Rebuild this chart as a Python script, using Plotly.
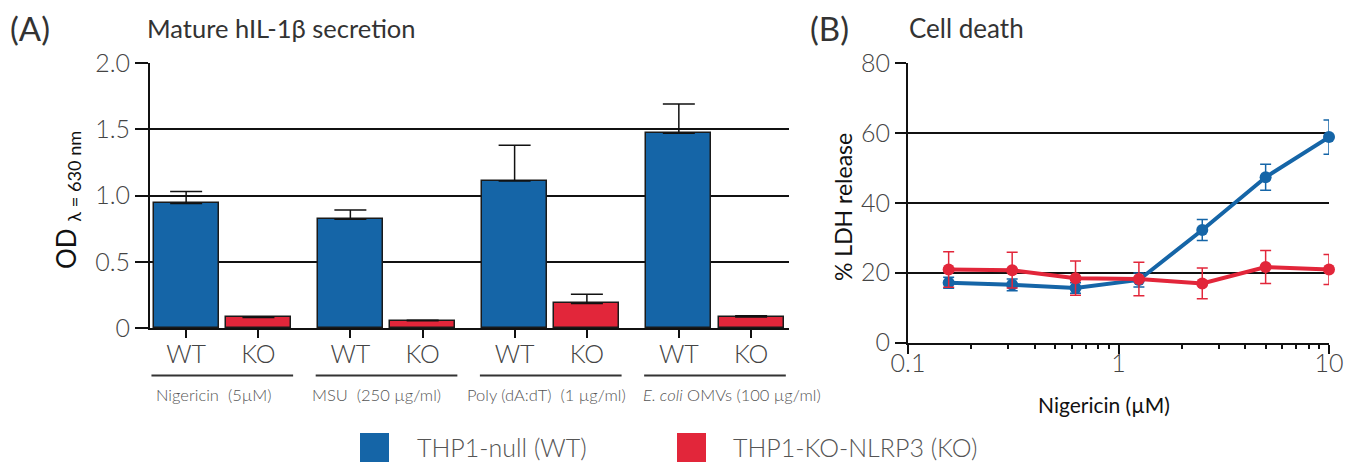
import plotly.graph_objects as go

# ---------------- data ----------------
groups = ["Nigericin  (5µM)", "MSU  (250 µg/ml)", "Poly (dA:dT)  (1 µg/ml)", "<i>E. coli</i> OMVs (100 µg/ml)"]
wt_od = [0.94, 0.82, 1.11, 1.47]
wt_err = [0.09, 0.07, 0.27, 0.22]
ko_od = [0.08, 0.055, 0.185, 0.083]
ko_err = [0.002, 0.003, 0.07, 0.01]
bar_labels = ["WT", "KO"]

nig_conc = [0.156, 0.3125, 0.625, 1.25, 2.5, 5, 10]
wt_ldh = [17.1, 16.5, 15.6, 17.9, 32.2, 47.3, 58.8]
wt_ldh_err = [1.6, 1.7, 1.5, 2.0, 3.0, 3.7, 4.9]
ko_ldh = [20.9, 20.7, 18.4, 18.2, 16.9, 21.6, 20.9]
ko_ldh_err = [5.1, 5.1, 4.9, 4.8, 4.4, 4.7, 4.3]

legend_names = ["THP1-null (WT)", "THP1-KO-NLRP3 (KO)"]

BLUE = "#1565a7"
RED = "#e2263a"
GRAY = "#444444"
OFF = 8                      # page body margin of the browser
W, H = 1356 - OFF, 462 - OFF


def px(x):
    return (x - OFF) / W


def py(y):
    return (H - (y - OFF)) / H


# bar positions (layout)
group_step = 2.272
x_wt = [g * group_step for g in range(len(groups))]
x_ko = [g * group_step + 1 for g in range(len(groups))]
label_shift = [-9, -10, -4, 17]   # px nudges of the group captions

fig = go.Figure()

fig.add_trace(go.Bar(
    x=x_wt, y=wt_od, width=0.9, marker=dict(color=BLUE, line=dict(color="#1a1a1a", width=1.5)),
    error_y=dict(type="data", array=wt_err, arrayminus=[0] * len(wt_err), symmetric=False,
                 color="#111", thickness=1.5, width=16),
    xaxis="x", yaxis="y", showlegend=False, name=legend_names[0]))
fig.add_trace(go.Bar(
    x=x_ko, y=ko_od, width=0.9, marker=dict(color=RED, line=dict(color="#1a1a1a", width=1.5)),
    error_y=dict(type="data", array=ko_err, arrayminus=[0] * len(ko_err), symmetric=False,
                 color="#111", thickness=1.5, width=16),
    xaxis="x", yaxis="y", showlegend=False, name=legend_names[1]))

fig.add_trace(go.Scatter(
    x=nig_conc, y=wt_ldh, mode="lines+markers", cliponaxis=False,
    line=dict(color=BLUE, width=4), marker=dict(color=BLUE, size=12),
    error_y=dict(type="data", array=wt_ldh_err, color=BLUE, thickness=1.5, width=5.5),
    xaxis="x2", yaxis="y2", showlegend=False, name=legend_names[0]))
fig.add_trace(go.Scatter(
    x=nig_conc, y=ko_ldh, mode="lines+markers", cliponaxis=False,
    line=dict(color=RED, width=4), marker=dict(color=RED, size=12),
    error_y=dict(type="data", array=ko_ldh_err, color=RED, thickness=1.5, width=5.5),
    xaxis="x2", yaxis="y2", showlegend=False, name=legend_names[1]))

tickfont = dict(family="Lato", size=25, color=GRAY, weight=300)

tick_x = []
tick_t = []
for a, b in zip(x_wt, x_ko):
    tick_x += [a, b]
    tick_t += bar_labels

minor_vals = [m * d for d in (0.1, 1) for m in range(2, 10)]

fig.update_layout(
    template="none",
    width=W, height=H, margin=dict(l=0, r=0, t=0, b=0, pad=0), autosize=False,
    paper_bgcolor="white", plot_bgcolor="white", bargap=0, showlegend=False,
    font=dict(family="Lato", color=GRAY),
    xaxis=dict(domain=[px(150), px(789)], range=[-0.5, 8.34], showgrid=False, zeroline=False,
               showline=True, linecolor="#111", linewidth=2, ticks="outside", ticklen=8,
               tickwidth=1.5, tickcolor="#111", tickvals=tick_x, ticktext=tick_t, tickfont=tickfont,
               ticklabelstandoff=-5, anchor="y", automargin=False),
    yaxis=dict(domain=[py(328), py(63)], range=[0, 2.0], tickvals=[0, 0.5, 1.0, 1.5, 2.0],
               ticktext=["0", "0.5", "1.0", "1.5", "2.0"], showgrid=True, gridcolor="#111",
               gridwidth=1.5, zeroline=False, showline=True, linecolor="#111", linewidth=2,
               ticks="outside", ticklen=13, tickwidth=1.5, tickcolor="#111", tickfont=tickfont,
               anchor="x", automargin=False),
    xaxis2=dict(domain=[px(908), px(1329)], type="log", range=[-1, 1], tickvals=[0.1, 1, 10],
                ticktext=["0.1", "1", "10"], showgrid=False, zeroline=False, showline=True,
                linecolor="#111", linewidth=2, ticks="outside", ticklen=9, tickwidth=1.5,
                tickcolor="#111", tickfont=tickfont, anchor="y2", automargin=False,
                ticklabelstandoff=-12,
                minor=dict(tickvals=minor_vals, ticks="outside", ticklen=4, tickwidth=1.5,
                           tickcolor="#111", showgrid=False)),
    yaxis2=dict(domain=[py(342.5), py(63)], range=[0, 80], tickvals=[0, 20, 40, 60, 80],
                showgrid=True, gridcolor="#111", gridwidth=1.5, zeroline=False, showline=True,
                linecolor="#111", linewidth=2, ticks="outside", ticklen=11, tickwidth=1.5,
                tickcolor="#111", tickfont=tickfont, anchor="x2", automargin=False),
)

ann = []
# panel labels / titles
ann.append(dict(text="(A)", x=px(8), y=py(28), xref="paper", yref="paper", xanchor="left",
                yanchor="middle", showarrow=False, font=dict(family="Lato", size=33, color="#333")))
ann.append(dict(text="Mature hIL-1β secretion", x=px(145), y=py(28), xref="paper", yref="paper",
                xanchor="left", yanchor="middle", showarrow=False,
                font=dict(family="Lato", size=25.5, color="#333")))
ann.append(dict(text="(B)", x=px(808), y=py(28), xref="paper", yref="paper", xanchor="left",
                yanchor="middle", showarrow=False, font=dict(family="Lato", size=33, color="#333")))
ann.append(dict(text="Cell death", x=px(907), y=py(28), xref="paper", yref="paper",
                xanchor="left", yanchor="middle", showarrow=False,
                font=dict(family="Lato", size=26, color="#333")))
# axis titles
ann.append(dict(text="OD <sub>λ = 630 nm</sub>", x=px(68), y=py(200),
                xref="paper", yref="paper", xanchor="center", yanchor="middle", textangle=-90,
                showarrow=False, font=dict(family="Lato", size=26, color="#111")))
ann.append(dict(text="% LDH release", x=px(843), y=py(207), xref="paper", yref="paper",
                xanchor="center", yanchor="middle", textangle=-90, showarrow=False,
                font=dict(family="Lato", size=23, color="#111")))
ann.append(dict(text="Nigericin (µM)", x=px(1104), y=py(404), xref="paper", yref="paper",
                xanchor="center", yanchor="middle", showarrow=False,
                font=dict(family="Lato", size=21, color="#111")))
# group labels
shapes = []
for g, name in enumerate(groups):
    c = (x_wt[g] + x_ko[g]) / 2
    ann.append(dict(text=name, x=c, y=py(395), xref="x", yref="paper", xanchor="center",
                    yanchor="middle", showarrow=False, xshift=label_shift[g],
                    font=dict(family="Lato", size=16.5, color="#555", weight=300)))
    shapes.append(dict(type="line", x0=c - 0.98, x1=c + 0.98, y0=py(375.5), y1=py(375.5),
                       xref="x", yref="paper", line=dict(color="#333", width=2)))

# legend (manual)
for i, (name, col, sx, tx) in enumerate([(legend_names[0], BLUE, 360, 415),
                                          (legend_names[1], RED, 677, 731)]):
    shapes.append(dict(type="rect", x0=px(sx), x1=px(sx + 29), y0=py(462), y1=py(433),
                       xref="paper", yref="paper", fillcolor=col, line=dict(width=0)))
    ann.append(dict(text=name, x=px(tx), y=py(447), xref="paper", yref="paper",
                    xanchor="left", yanchor="middle", showarrow=False,
                    font=dict(family="Lato", size=25, color="#555", weight=300)))

fig.update_layout(annotations=ann, shapes=shapes)
fig.write_html("out.html")
